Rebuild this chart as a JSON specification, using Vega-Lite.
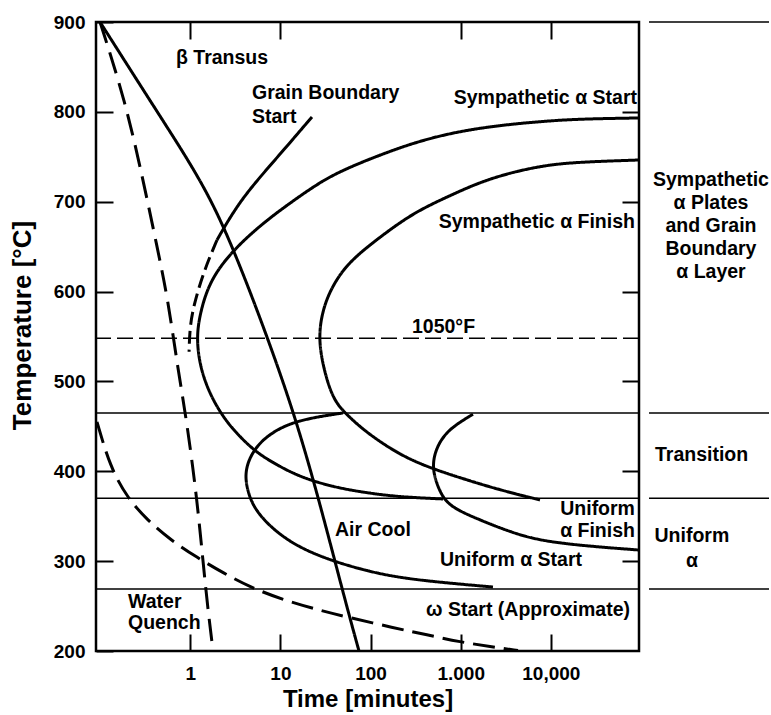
{
  "$schema": "https://vega.github.io/schema/vega-lite/v6.json",
  "width": 543,
  "height": 629,
  "autosize": {"type": "none"},
  "padding": {"left": 96, "top": 22, "right": 132, "bottom": 64},
  "background": "white",
  "config": {
    "view": {"stroke": "black", "strokeWidth": 2.5},
    "axis": {"grid": false, "domain": false, "tickColor": "black", "tickWidth": 2, "tickSize": 17, "offset": -17, "labelFont": "Liberation Sans", "labelFontWeight": "bold", "labelFontSize": 19, "labelColor": "black", "labelFlush": false, "labelOverlap": false, "labelBound": false, "titleFont": "Liberation Sans", "titleFontWeight": "bold", "titleColor": "black"},
    "text": {"font": "Liberation Sans", "fontWeight": "bold", "fontSize": 19.5, "color": "black", "baseline": "middle"}
  },
  "datasets": {
    "curves": [
      {"series": "Air Cool", "i": 0, "t": 0.0997, "T": 900},
      {"series": "Air Cool", "i": 1, "t": 0.438, "T": 798.7},
      {"series": "Air Cool", "i": 2, "t": 1.157, "T": 733.1},
      {"series": "Air Cool", "i": 3, "t": 2.49, "T": 669.6},
      {"series": "Air Cool", "i": 4, "t": 7.28, "T": 548.3},
      {"series": "Air Cool", "i": 5, "t": 15.66, "T": 451.5},
      {"series": "Air Cool", "i": 6, "t": 29.66, "T": 351.4},
      {"series": "Air Cool", "i": 7, "t": 52.0, "T": 256.8},
      {"series": "Air Cool", "i": 8, "t": 74.4, "T": 200},

      {"series": "Water Quench", "i": 0, "t": 0.0997, "T": 900},
      {"series": "Water Quench", "i": 1, "t": 0.189, "T": 813},
      {"series": "Water Quench", "i": 2, "t": 0.30, "T": 724},
      {"series": "Water Quench", "i": 3, "t": 0.428, "T": 650},
      {"series": "Water Quench", "i": 4, "t": 0.566, "T": 591},
      {"series": "Water Quench", "i": 5, "t": 0.731, "T": 513},
      {"series": "Water Quench", "i": 6, "t": 0.92, "T": 454},
      {"series": "Water Quench", "i": 7, "t": 1.19, "T": 368},
      {"series": "Water Quench", "i": 8, "t": 1.38, "T": 301},
      {"series": "Water Quench", "i": 9, "t": 1.57, "T": 246},
      {"series": "Water Quench", "i": 10, "t": 1.79, "T": 200},

      {"series": "Omega Start", "i": 0, "t": 0.0923, "T": 455},
      {"series": "Omega Start", "i": 1, "t": 0.129, "T": 405},
      {"series": "Omega Start", "i": 2, "t": 0.199, "T": 371},
      {"series": "Omega Start", "i": 3, "t": 0.331, "T": 346},
      {"series": "Omega Start", "i": 4, "t": 0.596, "T": 324},
      {"series": "Omega Start", "i": 5, "t": 1.19, "T": 304},
      {"series": "Omega Start", "i": 6, "t": 2.31, "T": 287},
      {"series": "Omega Start", "i": 7, "t": 4.6, "T": 271},
      {"series": "Omega Start", "i": 8, "t": 10.7, "T": 257},
      {"series": "Omega Start", "i": 9, "t": 25.5, "T": 246},
      {"series": "Omega Start", "i": 10, "t": 59.1, "T": 237},
      {"series": "Omega Start", "i": 11, "t": 177, "T": 226},
      {"series": "Omega Start", "i": 12, "t": 423, "T": 218},
      {"series": "Omega Start", "i": 13, "t": 982, "T": 210},
      {"series": "Omega Start", "i": 14, "t": 2280, "T": 204.5},
      {"series": "Omega Start", "i": 15, "t": 4320, "T": 200.5},

      {"series": "Grain Boundary Start", "i": 0, "t": 22.4, "T": 794.3},
      {"series": "Grain Boundary Start", "i": 1, "t": 8.71, "T": 746.4},
      {"series": "Grain Boundary Start", "i": 2, "t": 3.56, "T": 701.9},
      {"series": "Grain Boundary Start", "i": 3, "t": 1.98, "T": 657.4},

      {"series": "Grain Boundary Start (extrapolated)", "i": 0, "t": 1.98, "T": 657.4},
      {"series": "Grain Boundary Start (extrapolated)", "i": 1, "t": 1.46, "T": 626.2},
      {"series": "Grain Boundary Start (extrapolated)", "i": 2, "t": 1.13, "T": 590.6},
      {"series": "Grain Boundary Start (extrapolated)", "i": 3, "t": 0.99, "T": 562.8},
      {"series": "Grain Boundary Start (extrapolated)", "i": 4, "t": 0.97, "T": 533},

      {"series": "Sympathetic Start", "i": 0, "t": 94000, "T": 793.2},
      {"series": "Sympathetic Start", "i": 1, "t": 21040, "T": 792.1},
      {"series": "Sympathetic Start", "i": 2, "t": 9058, "T": 789.8},
      {"series": "Sympathetic Start", "i": 3, "t": 3800, "T": 786.5},
      {"series": "Sympathetic Start", "i": 4, "t": 1636, "T": 782.0},
      {"series": "Sympathetic Start", "i": 5, "t": 704, "T": 775.4},
      {"series": "Sympathetic Start", "i": 6, "t": 296, "T": 765.3},
      {"series": "Sympathetic Start", "i": 7, "t": 127, "T": 752.0},
      {"series": "Sympathetic Start", "i": 8, "t": 59.1, "T": 738.6},
      {"series": "Sympathetic Start", "i": 9, "t": 29.7, "T": 724.2},
      {"series": "Sympathetic Start", "i": 10, "t": 12.8, "T": 698.6},
      {"series": "Sympathetic Start", "i": 11, "t": 6.41, "T": 676.3},
      {"series": "Sympathetic Start", "i": 12, "t": 2.98, "T": 646.3},
      {"series": "Sympathetic Start", "i": 13, "t": 1.655, "T": 612.9},
      {"series": "Sympathetic Start", "i": 14, "t": 1.282, "T": 576.2},
      {"series": "Sympathetic Start", "i": 15, "t": 1.17, "T": 548.3},
      {"series": "Sympathetic Start", "i": 16, "t": 1.282, "T": 516.1},
      {"series": "Sympathetic Start", "i": 17, "t": 1.655, "T": 484.9},
      {"series": "Sympathetic Start", "i": 18, "t": 2.427, "T": 457.1},
      {"series": "Sympathetic Start", "i": 19, "t": 3.56, "T": 438.2},
      {"series": "Sympathetic Start", "i": 20, "t": 5.5, "T": 420.4},
      {"series": "Sympathetic Start", "i": 21, "t": 9.16, "T": 407.0},
      {"series": "Sympathetic Start", "i": 22, "t": 16.49, "T": 393.7},
      {"series": "Sympathetic Start", "i": 23, "t": 38.3, "T": 382.5},
      {"series": "Sympathetic Start", "i": 24, "t": 91.3, "T": 375.9},
      {"series": "Sympathetic Start", "i": 25, "t": 212, "T": 371.4},
      {"series": "Sympathetic Start", "i": 26, "t": 636, "T": 369.2},

      {"series": "Sympathetic Finish", "i": 0, "t": 94000, "T": 746.4},
      {"series": "Sympathetic Finish", "i": 1, "t": 21040, "T": 744.2},
      {"series": "Sympathetic Finish", "i": 2, "t": 9058, "T": 740.9},
      {"series": "Sympathetic Finish", "i": 3, "t": 3800, "T": 733.1},
      {"series": "Sympathetic Finish", "i": 4, "t": 1636, "T": 721.9},
      {"series": "Sympathetic Finish", "i": 5, "t": 704, "T": 705.3},
      {"series": "Sympathetic Finish", "i": 6, "t": 296, "T": 687.4},
      {"series": "Sympathetic Finish", "i": 7, "t": 127, "T": 660.7},
      {"series": "Sympathetic Finish", "i": 8, "t": 55, "T": 631.8},
      {"series": "Sympathetic Finish", "i": 9, "t": 35.5, "T": 601.8},
      {"series": "Sympathetic Finish", "i": 10, "t": 28.9, "T": 576.2},
      {"series": "Sympathetic Finish", "i": 11, "t": 26.5, "T": 548.3},
      {"series": "Sympathetic Finish", "i": 12, "t": 29.7, "T": 516.1},
      {"series": "Sympathetic Finish", "i": 13, "t": 38.3, "T": 479.4},
      {"series": "Sympathetic Finish", "i": 14, "t": 54.8, "T": 462.6},
      {"series": "Sympathetic Finish", "i": 15, "t": 91.3, "T": 442.6},
      {"series": "Sympathetic Finish", "i": 16, "t": 212, "T": 418.1},
      {"series": "Sympathetic Finish", "i": 17, "t": 456, "T": 403.7},
      {"series": "Sympathetic Finish", "i": 18, "t": 1174, "T": 390.3},
      {"series": "Sympathetic Finish", "i": 19, "t": 2727, "T": 379.2},
      {"series": "Sympathetic Finish", "i": 20, "t": 7574, "T": 368.1},

      {"series": "Uniform Start", "i": 0, "t": 49.4, "T": 464.9},
      {"series": "Uniform Start", "i": 1, "t": 15.27, "T": 457.1},
      {"series": "Uniform Start", "i": 2, "t": 7.66, "T": 442.6},
      {"series": "Uniform Start", "i": 3, "t": 4.96, "T": 423.7},
      {"series": "Uniform Start", "i": 4, "t": 4.05, "T": 401.4},
      {"series": "Uniform Start", "i": 5, "t": 4.2, "T": 382.5},
      {"series": "Uniform Start", "i": 6, "t": 4.96, "T": 360.3},
      {"series": "Uniform Start", "i": 7, "t": 7.66, "T": 338.0},
      {"series": "Uniform Start", "i": 8, "t": 15.27, "T": 315.8},
      {"series": "Uniform Start", "i": 9, "t": 42.4, "T": 298.0},
      {"series": "Uniform Start", "i": 10, "t": 164, "T": 282.4},
      {"series": "Uniform Start", "i": 11, "t": 704, "T": 275.7},
      {"series": "Uniform Start", "i": 12, "t": 2280, "T": 271.2},

      {"series": "Uniform Finish", "i": 0, "t": 1368, "T": 463.5},
      {"series": "Uniform Finish", "i": 1, "t": 704, "T": 446.0},
      {"series": "Uniform Finish", "i": 2, "t": 518, "T": 423.7},
      {"series": "Uniform Finish", "i": 3, "t": 480, "T": 401.4},
      {"series": "Uniform Finish", "i": 4, "t": 589, "T": 375.9},
      {"series": "Uniform Finish", "i": 5, "t": 760, "T": 360.3},
      {"series": "Uniform Finish", "i": 6, "t": 1636, "T": 345.8},
      {"series": "Uniform Finish", "i": 7, "t": 3522, "T": 332.5},
      {"series": "Uniform Finish", "i": 8, "t": 9058, "T": 320.2},
      {"series": "Uniform Finish", "i": 9, "t": 94000, "T": 312.4}
    ],
    "levels": [{"T": 465}, {"T": 370}, {"T": 269}],
    "f1050": [{"T": 548}],
    "outer": [
      {"T": 900, "t1": 122700, "t2": 2630000},
      {"T": 465, "t1": 122700, "t2": 2630000},
      {"T": 370, "t1": 122700, "t2": 2630000},
      {"T": 269, "t1": 122700, "t2": 2630000}
    ],
    "labelsLeft": [
      {"text": "β Transus", "t": 0.694, "T": 860},
      {"text": "Grain Boundary", "t": 4.84, "T": 821},
      {"text": "Start", "t": 4.84, "T": 794.3},
      {"text": "1050°F", "t": 288, "T": 560.6},
      {"text": "Air Cool", "t": 40.3, "T": 334.7},
      {"text": "Uniform α Start", "t": 589, "T": 301.3},
      {"text": "Water", "t": 0.204, "T": 254.5},
      {"text": "Quench", "t": 0.204, "T": 231.2},
      {"text": "Transition", "t": 143000, "T": 418.1}
    ],
    "labelsRight": [
      {"text": "Sympathetic α Start", "t": 90200, "T": 815.4},
      {"text": "Sympathetic α Finish", "t": 85700, "T": 677.4},
      {"text": "Uniform", "t": 85700, "T": 358.1},
      {"text": "α Finish", "t": 85700, "T": 333.6},
      {"text": "ω Start (Approximate)", "t": 75500, "T": 245.6}
    ],
    "labelsCenter": [
      {"text": "Sympathetic", "t": 597000, "T": 724.2},
      {"text": "α Plates", "t": 597000, "T": 698.6},
      {"text": "and Grain", "t": 597000, "T": 673.0},
      {"text": "Boundary", "t": 597000, "T": 647.4},
      {"text": "α Layer", "t": 597000, "T": 621.8},
      {"text": "Uniform", "t": 367000, "T": 328.0},
      {"text": "α", "t": 367000, "T": 300.2}
    ]
  },
  "layer": [
    {
      "data": {"name": "levels"},
      "mark": {"type": "rule", "strokeWidth": 1.5, "color": "black"},
      "encoding": {
        "y": {"field": "T", "type": "quantitative", "scale": {"domain": [200, 900], "nice": false, "zero": false},
          "axis": {"orient": "right", "values": [300, 400, 500, 600, 700, 800], "labels": false, "title": null}}
      }
    },
    {
      "data": {"name": "f1050"},
      "mark": {"type": "rule", "strokeWidth": 1.5, "color": "black", "strokeDash": [16, 6]},
      "encoding": {
        "y": {"field": "T", "type": "quantitative", "scale": {"domain": [200, 900], "nice": false, "zero": false}, "axis": null}
      }
    },
    {
      "data": {"name": "outer"},
      "mark": {"type": "rule", "strokeWidth": 1.5, "color": "black"},
      "encoding": {
        "x": {"field": "t1", "type": "quantitative", "scale": {"type": "log", "domain": [0.09, 95000], "nice": false}, "axis": null},
        "x2": {"field": "t2"},
        "y": {"field": "T", "type": "quantitative", "scale": {"domain": [200, 900], "nice": false, "zero": false}, "axis": null}
      }
    },
    {
      "data": {"name": "curves"},
      "mark": {"type": "line", "strokeWidth": 3, "color": "black", "interpolate": "basis"},
      "encoding": {
        "x": {"field": "t", "type": "quantitative", "scale": {"type": "log", "domain": [0.09, 95000], "nice": false},
          "axis": {"orient": "bottom", "values": [1, 10, 100, 1000, 10000],
            "labelExpr": "datum.value == 1000 ? '1.000' : datum.value == 10000 ? '10,000' : format(datum.value, 'd')",
            "labelPadding": 13, "title": "Time [minutes]", "titleFontSize": 24, "titleX": 271.5, "titleY": 65, "titleAlign": "center", "titleBaseline": "middle"}},
        "y": {"field": "T", "type": "quantitative", "scale": {"domain": [200, 900], "nice": false, "zero": false},
          "axis": {"orient": "left", "values": [200, 300, 400, 500, 600, 700, 800, 900], "labelPadding": 11,
            "title": "Temperature [°C]", "titleFontSize": 26, "titleAngle": -90, "titleX": -91, "titleY": 303, "titleAlign": "center", "titleBaseline": "middle"}},
        "detail": {"field": "series", "type": "nominal"},
        "order": {"field": "i", "type": "quantitative"},
        "strokeDash": {"field": "series", "type": "nominal", "legend": null,
          "scale": {"domain": ["Air Cool", "Water Quench", "Omega Start", "Grain Boundary Start", "Grain Boundary Start (extrapolated)", "Sympathetic Start", "Sympathetic Finish", "Uniform Start", "Uniform Finish"],
            "range": [[1, 0], [22, 10], [22, 9], [1, 0], [13, 6], [1, 0], [1, 0], [1, 0], [1, 0]]}}
      }
    },
    {
      "data": {"name": "labelsLeft"},
      "mark": {"type": "text", "align": "left"},
      "encoding": {
        "x": {"field": "t", "type": "quantitative", "scale": {"type": "log", "domain": [0.09, 95000], "nice": false},
          "axis": {"orient": "top", "values": [1, 10, 1000, 10000], "labels": false, "title": null}},
        "y": {"field": "T", "type": "quantitative", "scale": {"domain": [200, 900], "nice": false, "zero": false}, "axis": null},
        "text": {"field": "text"}
      }
    },
    {
      "data": {"name": "labelsRight"},
      "mark": {"type": "text", "align": "right"},
      "encoding": {
        "x": {"field": "t", "type": "quantitative", "scale": {"type": "log", "domain": [0.09, 95000], "nice": false}, "axis": null},
        "y": {"field": "T", "type": "quantitative", "scale": {"domain": [200, 900], "nice": false, "zero": false}, "axis": null},
        "text": {"field": "text"}
      }
    },
    {
      "data": {"name": "labelsCenter"},
      "mark": {"type": "text", "align": "center"},
      "encoding": {
        "x": {"field": "t", "type": "quantitative", "scale": {"type": "log", "domain": [0.09, 95000], "nice": false}, "axis": null},
        "y": {"field": "T", "type": "quantitative", "scale": {"domain": [200, 900], "nice": false, "zero": false}, "axis": null},
        "text": {"field": "text"}
      }
    }
  ],
  "resolve": {"axis": {"x": "independent", "y": "independent"}}
}
